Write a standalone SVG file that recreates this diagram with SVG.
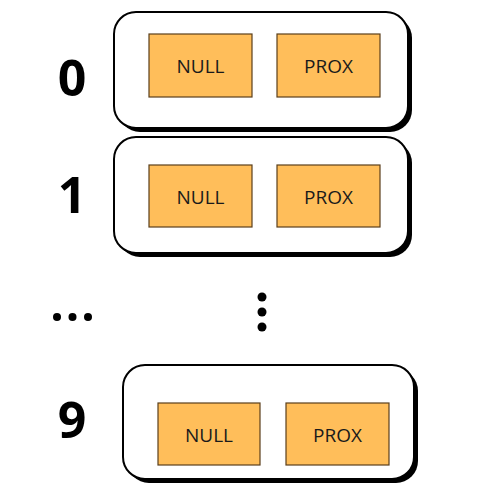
<svg xmlns="http://www.w3.org/2000/svg" width="500" height="500" viewBox="0 0 500 500">
<style>
.shadow{fill:#000}
.outer{fill:#fff;stroke:#000;stroke-width:2}
.cell{fill:#FFBE5A;stroke:#5a3f1c;stroke-width:1.2}
.ct{font-family:"Open Sans","DejaVu Sans",sans-serif;font-size:19px;fill:#1a1a1a;text-anchor:middle}
.idx{font-family:"Open Sans","DejaVu Sans",sans-serif;font-weight:bold;font-size:50px;fill:#000;text-anchor:middle}
</style>
<rect width="500" height="500" fill="#fff"/>
<g id="row0">
<rect class="shadow" x="118" y="16" width="294" height="116" rx="22"/>
<rect class="outer" x="114" y="12" width="294" height="116" rx="22"/>
<rect class="cell" x="149" y="34" width="103" height="63"/>
<text class="ct" x="200.5" y="73">NULL</text>
<rect class="cell" x="277" y="34" width="103" height="63"/>
<text class="ct" x="328.5" y="73">PROX</text>
<text class="idx" x="72" y="96">0</text>
</g>
<g id="row1">
<rect class="shadow" x="118" y="141" width="294" height="116" rx="22"/>
<rect class="outer" x="114" y="137" width="294" height="116" rx="22"/>
<rect class="cell" x="149" y="165" width="103" height="62"/>
<text class="ct" x="200.5" y="203.5">NULL</text>
<rect class="cell" x="277" y="165" width="103" height="62"/>
<text class="ct" x="328.5" y="203.5">PROX</text>
<text class="idx" x="72" y="213">1</text>
</g>
<g id="ellipsis">
<circle cx="57" cy="317" r="4"/>
<circle cx="72.5" cy="317" r="4"/>
<circle cx="88" cy="317" r="4"/>
<circle cx="262" cy="297" r="4.5"/>
<circle cx="262" cy="312" r="4.5"/>
<circle cx="262" cy="327" r="4.5"/>
</g>
<g id="row9">
<rect class="shadow" x="127" y="369" width="291" height="114" rx="22"/>
<rect class="outer" x="123" y="365" width="291" height="114" rx="22"/>
<rect class="cell" x="158" y="403" width="102" height="62"/>
<text class="ct" x="209" y="441.5">NULL</text>
<rect class="cell" x="286" y="403" width="103" height="62"/>
<text class="ct" x="337.5" y="441.5">PROX</text>
<text class="idx" x="72" y="438">9</text>
</g>
<g id="connectors"></g>
</svg>
